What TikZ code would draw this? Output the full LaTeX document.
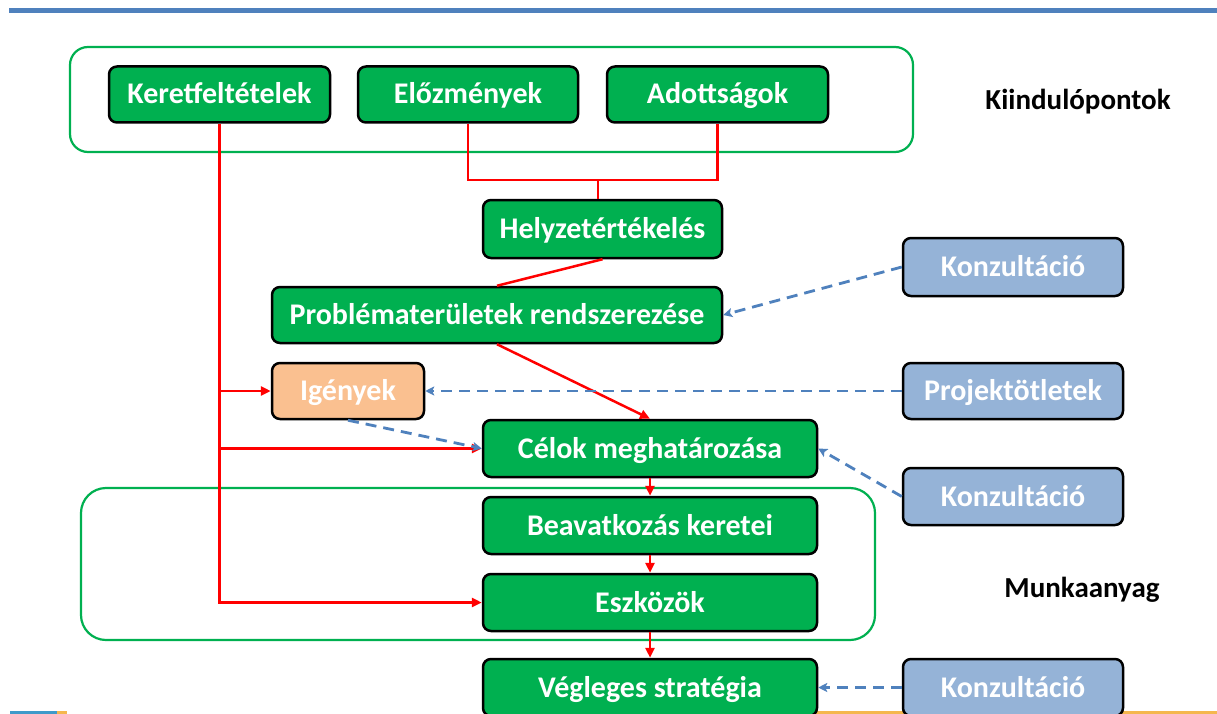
\documentclass[tikz,border=0pt]{standalone}
\usepackage{fontspec}
\setmainfont{Carlito}
\usetikzlibrary{arrows.meta}
\definecolor{gfill}{HTML}{00B050}
\definecolor{bfill}{HTML}{95B3D7}
\definecolor{pfill}{HTML}{FAC090}
\definecolor{dblue}{HTML}{4F81BD}
\definecolor{lred}{HTML}{FF0000}
\definecolor{orng}{HTML}{F5B74E}
\tikzset{
  x=1pt, y=-1pt,
  gbox/.style={draw=black, line width=2.5pt, rounded corners=8pt, fill=gfill, text=white,
    font=\fontsize{30}{33}\selectfont\bfseries, inner sep=0pt, minimum height=56pt,
    text height=19pt, text depth=0pt},
  bbox/.style={gbox, fill=bfill},
  pbox/.style={gbox, fill=pfill},
  frame/.style={draw=gfill, line width=2.2pt},
  redline/.style={draw=lred, line width=2.5pt},
  redarrow/.style={redline, -{Triangle[length=10pt,width=9pt]}},
  bluedash/.style={draw=dblue, line width=2.8pt, dash pattern=on 11pt off 7pt,
    -{Stealth[length=9pt,width=9pt,inset=2pt]}},
  label/.style={font=\fontsize{29}{32}\selectfont\bfseries, text=black, inner sep=0pt,
    text height=19pt, text depth=0pt}
}
\begin{document}
\begin{tikzpicture}
\useasboundingbox (0,0) rectangle (1217,714);
\clip (0,0) rectangle (1217,714);
\fill[white] (0,0) rectangle (1217,714);
% top rule
\fill[dblue] (9,8) rectangle (1217,13);
% bottom slivers
\fill[dblue!80!cyan] (10,711) rectangle (57,714);
\fill[orng] (57,711) rectangle (67,714);
\fill[orng] (815,711) rectangle (1217,714);
% frames
\draw[frame, rounded corners=18pt] (70,47) rectangle (913,152);
\draw[frame, rounded corners=25pt] (81,488) rectangle (875,640);
% nodes
\node[gbox, minimum width=221pt] (k) at (219.5,94.5) {Keretfeltételek};
\node[gbox, minimum width=220pt] (e) at (468,94.5) {Előzmények};
\node[gbox, minimum width=221pt] (a) at (717.5,94.5) {Adottságok};
\node[gbox, minimum width=239pt, minimum height=58pt] (h) at (602.5,229) {Helyzetértékelés};
\node[gbox, minimum width=450pt] (p) at (497,315) {Problématerületek rendszerezése};
\node[pbox, minimum width=152pt] (ig) at (348,391) {Igények};
\node[gbox, minimum width=334pt, minimum height=57pt] (cel) at (650,448.5) {Célok meghatározása};
\node[gbox, minimum width=334pt, minimum height=57pt] (bea) at (650,525.5) {Beavatkozás keretei};
\node[gbox, minimum width=334pt, minimum height=57pt] (esz) at (650,602.5) {Eszközök};
\node[gbox, minimum width=334pt, minimum height=57pt] (veg) at (650,687.5) {Végleges stratégia};
\node[bbox, minimum width=220pt, minimum height=58pt] (k1) at (1013,267) {Konzultáció};
\node[bbox, minimum width=220pt] (pr) at (1013,391) {Projektötletek};
\node[bbox, minimum width=220pt, minimum height=57pt] (k2) at (1013,496.5) {Konzultáció};
\node[bbox, minimum width=220pt, minimum height=57pt] (k3) at (1013,687.5) {Konzultáció};
\node[label] (l1) at (1078,100) {Kiindulópontok};
\node[label] (l2) at (1082,588) {Munkaanyag};
% red connectors
\coordinate (j) at (598,180);
\draw[redline] (e.south) |- (j) -| (a.south);
\draw[redline] (j) -- (j |- h.north);
\draw[redarrow] (k.south) -- (k.south |- esz.west) -- (esz.west);
\draw[redarrow] (k.south |- ig.west) -- (ig.west);
\draw[redarrow] (k.south |- cel.west) -- (cel.west);
\draw[redline] (h.south) -- (p.north);
\draw[redarrow] (p.south) -- (cel.north);
\draw[redarrow] (cel.south) -- (bea.north);
\draw[redarrow] (bea.south) -- (esz.north);
\draw[redarrow] (esz.south) -- (veg.north);
% blue dashed connectors
\draw[bluedash] (k1.west) -- (p.east);
\draw[bluedash] (pr.west) -- (ig.east);
\draw[bluedash] (ig.south) -- (cel.west);
\draw[bluedash] (k2.west) -- (cel.east);
\draw[bluedash] (k3.west) -- (veg.east);
\end{tikzpicture}
\end{document}
